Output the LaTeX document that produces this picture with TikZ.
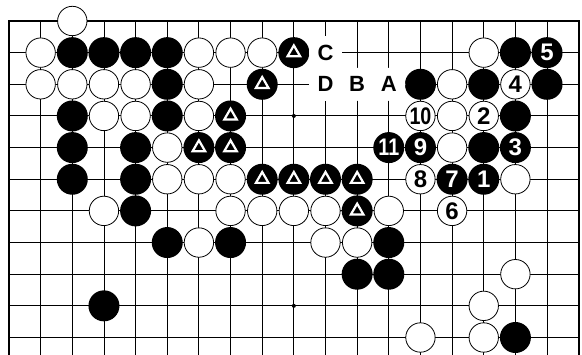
\documentclass[tikz,border=0pt]{standalone}
\usepackage{fontspec}
\usepackage{graphicx}
\setmainfont{Liberation Sans}
\usetikzlibrary{shapes.geometric}
\begin{document}
\begin{tikzpicture}[x=31.65pt,y=-31.65pt,
  gridline/.style={line width=0.9pt},
  edgeline/.style={line width=2.2pt,line join=miter},
  bst/.style={circle,fill=black,minimum size=31pt,inner sep=0pt,text=white,font=\bfseries\fontsize{24}{24}\selectfont},
  wst/.style={circle,draw=black,line width=0.8pt,fill=white,minimum size=29.4pt,inner sep=0pt,text=black,font=\bfseries\fontsize{24}{24}\selectfont},
  tri/.style={regular polygon,regular polygon sides=3,draw=white,line width=2.2pt,minimum size=14.5pt,inner sep=0pt},
  lbl/.style={circle,fill=white,minimum size=33pt,inner sep=0pt,font=\bfseries\fontsize{22}{22}\selectfont},
  starpt/.style={circle,fill=black,minimum size=4pt,inner sep=0pt}]
\useasboundingbox (-9pt,21pt) rectangle (573pt,-334pt);
\clip (-9pt,21pt) rectangle (573pt,-334pt);
% grid
\foreach \c in {1,...,17} \draw[gridline] (\c,0) -- (\c,10.8);
\foreach \r in {1,...,10} \draw[gridline] (0,\r) -- (18,\r);
\draw[edgeline] (0,10.8) -- (0,0) -- (18,0) -- (18,10.8);
\node[starpt] (s1) at (9,3) {};
\node[starpt] (s2) at (9,9) {};
% white stones
\foreach \c/\r in {2/0,1/1,6/1,7/1,8/1,15/1,1/2,2/2,3/2,4/2,6/2,14/2,3/3,4/3,6/3,14/3,5/4,14/4,5/5,6/5,7/5,16/5,3/6,7/6,8/6,9/6,10/6,12/6,6/7,10/7,11/7,16/8,15/9,13/10,15/10}
  \node[wst] (w\c-\r) at (\c,\r) {};
% black stones
\foreach \c/\r in {2/1,3/1,4/1,5/1,16/1,5/2,13/2,15/2,17/2,2/3,5/3,16/3,2/4,4/4,15/4,2/5,4/5,4/6,5/7,7/7,12/7,11/8,12/8,3/9,16/10}
  \node[bst] (b\c-\r) at (\c,\r) {};
% marked black stones
\foreach \c/\r in {9/1,8/2,7/3,6/4,7/4,8/5,9/5,10/5,11/5,11/6}{
  \node[bst] (b\c-\r) at (\c,\r) {};
  \node[tri] (t\c-\r) at (b\c-\r.center) {};
}
% numbered stones
\node[bst] (m1) at (15,5) {1};
\node[wst] (m2) at (15,3) {2};
\node[bst] (m3) at (16,4) {3};
\node[wst] (m4) at (16,2) {4};
\node[bst] (m5) at (17,1) {5};
\node[wst] (m6) at (14,6) {6};
\node[bst] (m7) at (14,5) {7};
\node[wst] (m8) at (13,5) {8};
\node[bst] (m9) at (13,4) {9};
\node[wst] (m10) at (13,3) {\scalebox{0.82}[1]{10}};
\node[bst] (m11) at (12,4) {\scalebox{0.82}[1]{11}};
% letters
\node[lbl] (lC) at (10,1) {C};
\node[lbl] (lD) at (10,2) {D};
\node[lbl] (lB) at (11,2) {B};
\node[lbl] (lA) at (12,2) {A};
\end{tikzpicture}
\end{document}
